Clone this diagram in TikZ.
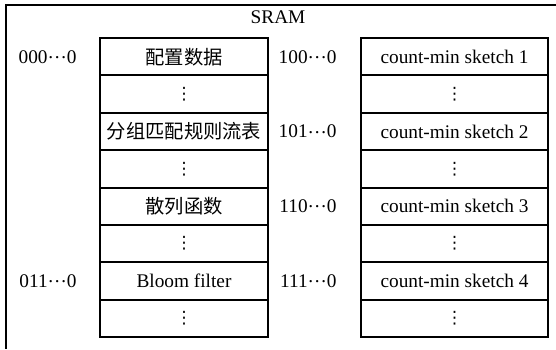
\documentclass[tikz,border=0pt]{standalone}
\usepackage{fontspec}
\setmainfont{Liberation Serif}
\newfontfamily\cjk{Noto Sans CJK SC}
\newfontfamily\symf{DejaVu Sans}
\usetikzlibrary{positioning}
\newcommand{\mydots}{\raisebox{0.25em}{…}}
\newcommand{\myvdots}{{\symf\fontsize{8.5pt}{9pt}\selectfont ⋮}}
\tikzset{%
    cell/.style={%
        draw, line width=1pt, minimum width=#1, minimum height=18.7pt,
        inner sep=0pt, outer sep=0pt
    },
    addr/.style={inner sep=0pt}
}

\begin{document}
\begin{tikzpicture}[x=0.5pt, y=-0.5pt, font=\fontsize{9.65pt}{11pt}\selectfont]
    \useasboundingbox (0,0) rectangle (556,349);
%    outer frame, cut at right and bottom
    \draw[line width=1pt] (556,5) -- (6,5) -- (6,349);
    \node (sram) at (278,17) {SRAM};
    % left column
    \node[cell=84pt] (cfg) at (184,56.7) {\cjk 配置数据};
    \node[cell=84pt, below=0pt of cfg] (gap1) {\myvdots};
    \node[cell=84pt, below=0pt of gap1] (flowtab) {\cjk 分组匹配规则流表};
    \node[cell=84pt, below=0pt of flowtab] (gap2) {\myvdots};
    \node[cell=84pt, below=0pt of gap2] (hashfn) {\cjk 散列函数};
    \node[cell=84pt, below=0pt of hashfn] (gap3) {\myvdots};
    \node[cell=84pt, below=0pt of gap3] (bloom) {Bloom filter};
    \node[cell=84pt, below=0pt of bloom] (gap4) {\myvdots};
    \node[addr, left=11.5pt of cfg] (a000) {000\mydots0};
    \node[addr, left=11.5pt of bloom] (a011) {011\mydots0};
    % right column
    \node[cell=93.5pt] (cms1) at (454.5,56.7) {count-min sketch 1};
    \node[cell=93.5pt, below=0pt of cms1] (rgap1) {\myvdots};
    \node[cell=93.5pt, below=0pt of rgap1] (cms2) {count-min sketch 2};
    \node[cell=93.5pt, below=0pt of cms2] (rgap2) {\myvdots};
    \node[cell=93.5pt, below=0pt of rgap2] (cms3) {count-min sketch 3};
    \node[cell=93.5pt, below=0pt of cms3] (rgap3) {\myvdots};
    \node[cell=93.5pt, below=0pt of rgap3] (cms4) {count-min sketch 4};
    \node[cell=93.5pt, below=0pt of cms4] (rgap4) {\myvdots};
    \node[addr, left=12pt of cms1] (a100) {100\mydots0};
    \node[addr, left=12pt of cms2] (a101) {101\mydots0};
    \node[addr, left=12pt of cms3] (a110) {110\mydots0};
    \node[addr, left=12pt of cms4] (a111) {111\mydots0};
\end{tikzpicture}
\end{document}
